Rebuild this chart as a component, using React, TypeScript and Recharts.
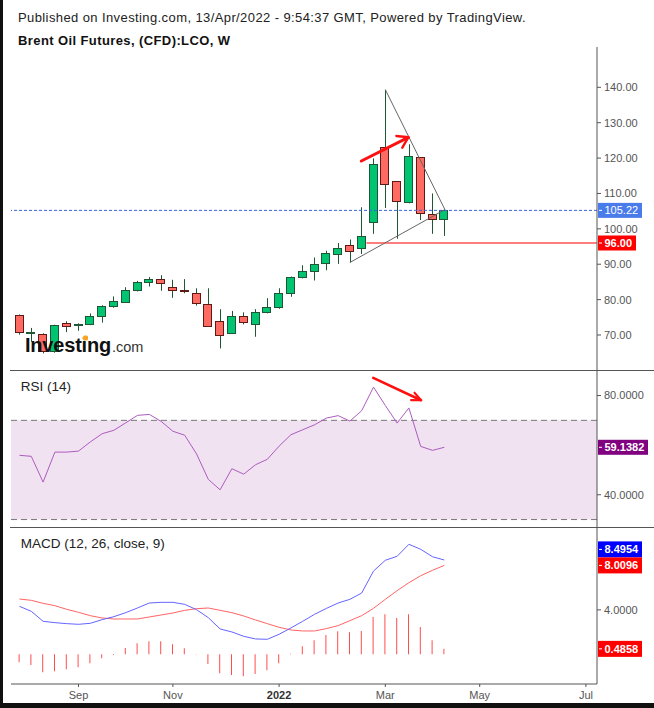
import React from 'react';
import { ComposedChart, Bar, Line, XAxis, YAxis, ReferenceLine, ReferenceArea } from 'recharts';

const FONT = '"Liberation Sans", Arial, Helvetica, sans-serif';

// ---------- data ----------
const weeks = [
  '2021-08-02', '2021-08-09', '2021-08-16', '2021-08-23', '2021-08-30',
  '2021-09-06', '2021-09-13', '2021-09-20', '2021-09-27',
  '2021-10-04', '2021-10-11', '2021-10-18', '2021-10-25',
  '2021-11-01', '2021-11-08', '2021-11-15', '2021-11-22', '2021-11-29',
  '2021-12-06', '2021-12-13', '2021-12-20', '2021-12-27',
  '2022-01-03', '2022-01-10', '2022-01-17', '2022-01-24', '2022-01-31',
  '2022-02-07', '2022-02-14', '2022-02-21', '2022-02-28',
  '2022-03-07', '2022-03-14', '2022-03-21', '2022-03-28',
  '2022-04-04', '2022-04-11',
];

const opens = [75.6, 70.6, 70.3, 65.5, 73.3, 72.7, 73.0, 75.5, 78.3, 79.4, 82.8, 85.1, 85.8, 83.7, 82.7, 82.0, 78.7, 73.9, 70.5, 75.5, 73.0, 76.4, 78.0, 81.8, 86.3, 88.0, 90.4, 93.0, 95.3, 94.5, 102.0, 123.0, 113.4, 107.6, 120.2, 104.3, 102.9];
const highs = [75.8, 72.0, 70.5, 72.9, 73.9, 73.3, 76.1, 78.4, 80.9, 83.5, 85.3, 86.4, 86.9, 85.6, 85.8, 83.2, 83.2, 77.3, 76.8, 76.4, 77.3, 80.4, 83.2, 86.5, 89.7, 91.9, 93.8, 96.0, 97.0, 106.1, 119.9, 139.3, 113.5, 123.9, 120.3, 110.0, 105.5];
const lows = [70.1, 68.1, 64.8, 65.0, 70.8, 71.2, 72.8, 73.5, 77.7, 79.1, 82.3, 83.7, 82.5, 80.5, 81.8, 78.3, 72.3, 66.2, 70.3, 73.0, 69.5, 76.1, 77.4, 80.8, 86.0, 85.4, 88.3, 90.1, 90.5, 92.9, 98.6, 105.9, 97.2, 107.2, 102.5, 98.6, 98.0];
const closes = [70.8, 70.8, 65.5, 72.7, 72.6, 73.0, 75.5, 78.1, 79.6, 82.7, 85.0, 85.8, 84.6, 82.8, 82.3, 79.0, 72.6, 69.9, 75.3, 73.6, 76.4, 77.8, 81.8, 86.3, 88.0, 90.2, 93.3, 94.5, 93.6, 98.1, 118.2, 112.7, 108.0, 120.7, 104.6, 102.9, 105.22];

const rsiValues = [55.9, 55.5, 45.1, 57.2, 57.2, 57.6, 61.3, 64.6, 66.0, 69.0, 72.0, 72.4, 69.6, 65.6, 64.0, 56.5, 46.2, 42.0, 50.5, 48.3, 52.1, 54.3, 59.6, 64.2, 66.2, 68.2, 70.9, 71.9, 69.7, 73.9, 83.4, 76.0, 68.9, 75.0, 59.5, 57.9, 59.1382];

const macdValues = [4.32, 3.87, 2.97, 2.85, 2.76, 2.70, 2.79, 3.12, 3.39, 3.75, 4.17, 4.62, 4.68, 4.68, 4.50, 4.02, 3.30, 2.28, 2.01, 1.62, 1.38, 1.35, 1.80, 2.37, 2.97, 3.60, 4.13, 4.62, 4.95, 5.52, 7.50, 8.47, 8.83, 9.91, 9.46, 8.79, 8.4954];
const signalValues = [4.98, 4.86, 4.59, 4.38, 4.05, 3.78, 3.48, 3.27, 3.18, 3.18, 3.18, 3.36, 3.54, 3.72, 3.96, 4.11, 4.17, 3.96, 3.75, 3.45, 3.09, 2.76, 2.43, 2.19, 2.10, 2.10, 2.31, 2.58, 3.03, 3.48, 4.14, 4.95, 5.73, 6.45, 7.08, 7.57, 8.0096];
const histValues = [-0.72, -0.96, -1.62, -1.53, -1.35, -1.17, -0.81, -0.36, -0.06, 0.57, 0.99, 1.17, 1.17, 0.90, 0.54, -0.03, -0.87, -1.71, -1.86, -1.98, -1.77, -1.44, -0.81, 0.04, 0.72, 1.26, 1.74, 2.07, 1.98, 2.10, 3.36, 3.60, 3.27, 3.60, 2.46, 1.26, 0.4858];

// x-axis ticks (week index) and their labels
const monthTickIdx = [5, 13, 22, 31, 39, 48];
const monthTickLabels = ['Sep', 'Nov', '2022', 'Mar', 'May', 'Jul'];

const priceTicks = [70, 80, 90, 100, 110, 120, 130, 140];
const rsiTicks = [40, 80];
const macdTicks = [4];

// annotations (data coordinates)
const lastPrice = 105.22;
const supportLevel = 96;
const supportStart = 29.4;
const triangleUpper = [{ x: 31, y: 139.35 }, { x: 36.05, y: 105.45 }];
const triangleLower = [{ x: 28, y: 90.5 }, { x: 36.05, y: 105.45 }];
const priceArrow = [{ x: 28.97, y: 119.17 }, { x: 32.95, y: 125.87 }];
const rsiArrow = [{ x: 29.98, y: 87.1 }, { x: 34.03, y: 78.1 }];
const rsiBand = [30, 70];

// ---------- layout constants ----------
const X_DOMAIN: [number, number] = [-0.72, 48.94];
const PRICE_DOMAIN: [number, number] = [60.11, 151.39];
const RSI_DOMAIN: [number, number] = [27.0, 90.3];
const MACD_DOMAIN: [number, number] = [-2.68, 11.47];

const AXIS_LINE = '#555555';
const AXIS_TEXT = '#555555';
const UP_FILL = '#00c472';
const UP_BORDER = '#1f5634';
const DOWN_FILL = '#ff6a62';
const DOWN_BORDER = '#5e1b16';
const WICK = '#1f5634';

const candleData = weeks.map((w, i) => ({
  x: i,
  week: w,
  open: opens[i],
  high: highs[i],
  low: lows[i],
  close: closes[i],
  range: [lows[i], highs[i]],
}));
const rsiData = weeks.map((w, i) => ({ x: i, week: w, rsi: rsiValues[i] }));
const macdData = weeks.map((w, i) => ({ x: i, week: w, macd: macdValues[i], signal: signalValues[i], hist: histValues[i] }));

// ---------- shapes ----------
const Candle = (props: any) => {
  const { x, y, width, height, payload } = props;
  if (!payload || height == null) return null;
  const { open, close, high, low } = payload;
  const span = high - low || 1;
  const py = (v: number) => y + ((high - v) / span) * height;
  const up = close >= open;
  const cx = Math.round(x + width / 2) + 0.5;
  const left = Math.round(x) + 0.5;
  const w = Math.round(width) - 1;
  const top = Math.round(py(Math.max(open, close))) + 0.5;
  const bot = Math.round(py(Math.min(open, close))) + 0.5;
  return (
    <g>
      <line x1={cx} x2={cx} y1={y} y2={y + height} stroke={WICK} strokeWidth={1} />
      <rect
        x={left}
        y={top}
        width={w}
        height={Math.max(bot - top, 1)}
        fill={up ? UP_FILL : DOWN_FILL}
        stroke={up ? UP_BORDER : DOWN_BORDER}
        strokeWidth={1}
      />
    </g>
  );
};

const makeArrow = (headLen: number, spread: number, width: number) => (p: any) => {
  const { x1, y1, x2, y2 } = p;
  if (x1 == null) return <g />;
  const ang = Math.atan2(y2 - y1, x2 - x1);
  const a1 = ang + Math.PI - spread;
  const a2 = ang + Math.PI + spread;
  const pts = `${x2 + headLen * Math.cos(a1)},${y2 + headLen * Math.sin(a1)} ${x2},${y2} ${x2 + headLen * Math.cos(a2)},${y2 + headLen * Math.sin(a2)}`;
  return (
    <g>
      <line x1={x1} y1={y1} x2={x2} y2={y2} stroke="#ff1010" strokeWidth={width} strokeLinecap="round" />
      <polyline points={pts} fill="none" stroke="#ff1010" strokeWidth={width * 0.8} strokeLinecap="round" strokeLinejoin="round" />
    </g>
  );
};

const ValueTag = (p: any) => {
  const { viewBox, text, bg, w, h = 15, bold = true } = p;
  if (!viewBox) return null;
  const x = viewBox.x + viewBox.width + 1;
  const cy = viewBox.y;
  return (
    <g>
      <rect x={x} y={cy - h / 2} width={w} height={h} fill={bg} />
      <line x1={x + 1} x2={x + 4} y1={cy} y2={cy} stroke="#ffffff" strokeWidth={1} />
      <text x={x + 6.5} y={cy} dy="0.36em" fontSize={11} fill="#ffffff" fontWeight={bold ? 'bold' : 'normal'} fontFamily={FONT}>
        {text}
      </text>
    </g>
  );
};

const StackedTags = (p: any) => {
  const { viewBox, lowerText, upperText } = p;
  if (!viewBox) return null;
  return (
    <g>
      <ValueTag viewBox={{ ...viewBox, y: viewBox.y - 16 }} text={upperText} bg="#0000ff" w={44} h={16} />
      <ValueTag viewBox={viewBox} text={lowerText} bg="#ff0000" w={44} h={16} />
    </g>
  );
};

const MonthTick = (props: any) => {
  const { x, y, payload } = props;
  const idx = monthTickIdx.indexOf(payload.value);
  const label = monthTickLabels[idx] ?? '';
  const bold = label === '2022';
  return (
    <text
      x={x}
      y={y}
      dy="0.71em"
      textAnchor="middle"
      fontSize={11}
      fontFamily={FONT}
      fill={bold ? '#333333' : AXIS_TEXT}
      fontWeight={bold ? 'bold' : 'normal'}
    >
      {label}
    </text>
  );
};

const yAxisCommon = {
  orientation: 'right' as const,
  type: 'number' as const,
  allowDataOverflow: true,
  width: 57,
  tickSize: 4,
  tickMargin: 3,
  interval: 0 as const,
  tick: { fontSize: 11, fill: AXIS_TEXT, fontFamily: FONT },
  axisLine: { stroke: AXIS_LINE },
  tickLine: { stroke: AXIS_LINE },
};

export default function App() {
  return (
    <div style={{ position: 'absolute', left: 0, top: 0, width: 654, height: 708, background: '#ffffff', overflow: 'hidden', fontFamily: FONT }}>
      {/* Price pane */}
      <div style={{ position: 'absolute', left: 0, top: 47 }}>
        <ComposedChart width={654} height={323} data={candleData} margin={{ top: 0, right: 0, bottom: 0, left: 11 }}>
          <XAxis type="number" dataKey="x" domain={X_DOMAIN} allowDataOverflow hide />
          <YAxis {...yAxisCommon} domain={PRICE_DOMAIN} ticks={priceTicks} tickFormatter={(v: number) => v.toFixed(2)} />
          <ReferenceLine
            y={lastPrice}
            stroke="#3d63dd"
            strokeDasharray="3 2"
            label={(lp: any) => <ValueTag viewBox={lp.viewBox} text={lastPrice.toFixed(2)} bg="#4a7bea" w={44} bold={false} />}
          />
          <ReferenceLine segment={[{ x: supportStart, y: supportLevel }, { x: X_DOMAIN[1] - 0.01, y: supportLevel }]} stroke="#ff0000" strokeWidth={1.2} />
          <ReferenceLine
            y={supportLevel}
            stroke="none"
            strokeOpacity={0}
            label={(lp: any) => <ValueTag viewBox={lp.viewBox} text={supportLevel.toFixed(2)} bg="#ff0000" w={38} />}
          />
          <Bar dataKey="range" barSize={9} isAnimationActive={false} shape={(p: any) => <Candle {...p} />} />
          <ReferenceLine segment={triangleUpper} stroke="#666666" strokeWidth={1} />
          <ReferenceLine segment={triangleLower} stroke="#666666" strokeWidth={1} />
          <ReferenceLine segment={priceArrow} shape={makeArrow(12, 0.58, 3)} />
        </ComposedChart>
      </div>

      {/* RSI pane */}
      <div style={{ position: 'absolute', left: 0, top: 370 }}>
        <ComposedChart width={654} height={157} data={rsiData} margin={{ top: 0, right: 0, bottom: 0, left: 11 }}>
          <XAxis type="number" dataKey="x" domain={X_DOMAIN} allowDataOverflow hide />
          <YAxis {...yAxisCommon} domain={RSI_DOMAIN} ticks={rsiTicks} tickFormatter={(v: number) => v.toFixed(4)} />
          <ReferenceArea y1={rsiBand[0]} y2={rsiBand[1]} fill="#f0e2f1" fillOpacity={1} stroke="none" />
          <ReferenceLine y={rsiBand[0]} stroke="#787878" strokeDasharray="6 4" />
          <ReferenceLine y={rsiBand[1]} stroke="#787878" strokeDasharray="6 4" />
          <Line dataKey="rsi" type="linear" stroke="#ad5cbf" strokeWidth={1} dot={false} isAnimationActive={false} />
          <ReferenceLine
            y={rsiValues[rsiValues.length - 1]}
            stroke="none"
            strokeOpacity={0}
            label={(lp: any) => <ValueTag viewBox={lp.viewBox} text={rsiValues[rsiValues.length - 1].toFixed(4)} bg="#800080" w={50} />}
          />
          <ReferenceLine segment={rsiArrow} shape={makeArrow(10, 0.42, 2.6)} />
        </ComposedChart>
      </div>

      {/* MACD pane */}
      <div style={{ position: 'absolute', left: 0, top: 527 }}>
        <ComposedChart width={654} height={177} data={macdData} margin={{ top: 0, right: 0, bottom: 0, left: 11 }}>
          <XAxis
            type="number"
            dataKey="x"
            domain={X_DOMAIN}
            allowDataOverflow
            ticks={monthTickIdx}
            interval={0}
            height={20}
            tickSize={3}
            tickMargin={4}
            axisLine={{ stroke: AXIS_LINE }}
            tickLine={{ stroke: AXIS_LINE }}
            tick={(p: any) => <MonthTick {...p} />}
          />
          <YAxis {...yAxisCommon} domain={MACD_DOMAIN} ticks={macdTicks} tickFormatter={(v: number) => v.toFixed(4)} />
          <Bar dataKey="hist" barSize={1} fill="#ff4d4d" isAnimationActive={false} />
          <Line dataKey="signal" type="linear" stroke="#ff6464" strokeWidth={1} dot={false} isAnimationActive={false} />
          <Line dataKey="macd" type="linear" stroke="#6464ff" strokeWidth={1} dot={false} isAnimationActive={false} />
          <ReferenceLine
            y={histValues[histValues.length - 1]}
            stroke="none"
            strokeOpacity={0}
            label={(lp: any) => <ValueTag viewBox={lp.viewBox} text={histValues[histValues.length - 1].toFixed(4)} bg="#ff0000" w={44} h={16} />}
          />
          <ReferenceLine
            y={signalValues[signalValues.length - 1]}
            stroke="none"
            strokeOpacity={0}
            label={(lp: any) => (
              <StackedTags
                viewBox={lp.viewBox}
                lowerText={signalValues[signalValues.length - 1].toFixed(4)}
                upperText={macdValues[macdValues.length - 1].toFixed(4)}
              />
            )}
          />
        </ComposedChart>
      </div>

      {/* Static overlay: titles, pane labels, separators, logo, frame */}
      <svg width={654} height={708} style={{ position: 'absolute', left: 0, top: 0, pointerEvents: 'none' }}>
        <text x={18} y={21.5} fontSize={13} letterSpacing={0.4} fill="#222222" fontFamily={FONT}>
          Published on Investing.com, 13/Apr/2022 - 9:54:37 GMT, Powered by TradingView.
        </text>
        <text x={18} y={44.5} fontSize={13} letterSpacing={0.4} fontWeight="bold" fill="#111111" fontFamily={FONT}>
          Brent Oil Futures, (CFD):LCO, W
        </text>
        <line x1={10} x2={654} y1={370.5} y2={370.5} stroke="#555555" strokeWidth={1} />
        <line x1={10} x2={654} y1={527.5} y2={527.5} stroke="#555555" strokeWidth={1} />
        <text x={20.7} y={391.3} fontSize={13.5} fill="#222222" fontFamily={FONT}>RSI (14)</text>
        <text x={20.7} y={547.7} fontSize={13.5} fill="#222222" fontFamily={FONT}>MACD (12, 26, close, 9)</text>
        <text x={25} y={352} fontSize={20} fontWeight="bold" fill="#111111" fontFamily={FONT} letterSpacing={-0.2}>
          Investing
        </text>
        <rect x={83} y={335.5} width={5} height={5} rx={1.5} fill="#f5a623" />
        <text x={112} y={352} fontSize={14.5} fill="#333333" fontFamily={FONT}>.com</text>
        <rect x={0} y={0} width={3} height={708} fill="#111111" />
        <rect x={0} y={703} width={654} height={5} fill="#111111" />
      </svg>
    </div>
  );
}
